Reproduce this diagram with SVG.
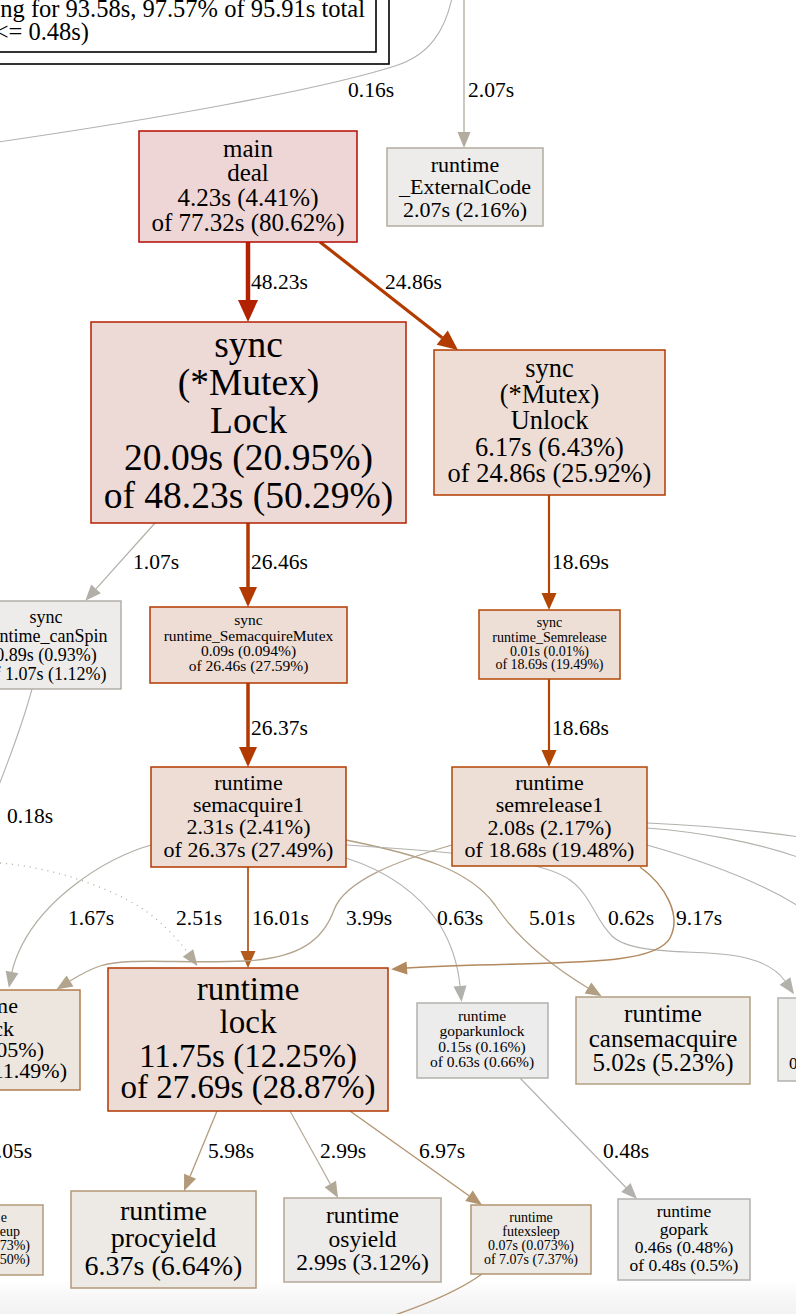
<svg xmlns="http://www.w3.org/2000/svg" width="796" height="1314" viewBox="0 0 796 1314">
<defs>
<style>
text{font-family:"Liberation Serif","Times New Roman",serif;fill:#000}
.c text{text-anchor:middle}
.e{fill:none}
.el{font-size:21.5px}
.n{stroke-width:1.5}
</style>
<linearGradient id="fade" x1="0" y1="0" x2="0" y2="1">
<stop offset="0" stop-color="#ffffff"/>
<stop offset="0.5" stop-color="#f7f7f7"/>
<stop offset="1" stop-color="#f3f3f3"/>
</linearGradient>
<marker id="a1" orient="auto" markerUnits="userSpaceOnUse" overflow="visible" refX="0" refY="0"><path d="M0,-10L22,0L0,10z" fill="#b22100"/></marker>
<marker id="a2" orient="auto" markerUnits="userSpaceOnUse" overflow="visible" refX="0" refY="0"><path d="M0,-9L20,0L0,9z" fill="#b23b00"/></marker>
<marker id="a3" orient="auto" markerUnits="userSpaceOnUse" overflow="visible" refX="0" refY="0"><path d="M0,-9L20,0L0,9z" fill="#b23900"/></marker>
<marker id="a4" orient="auto" markerUnits="userSpaceOnUse" overflow="visible" refX="0" refY="0"><path d="M0,-7.5L17,0L0,7.5z" fill="#b24704"/></marker>
<marker id="a5" orient="auto" markerUnits="userSpaceOnUse" overflow="visible" refX="0" refY="0"><path d="M0,-7.5L17,0L0,7.5z" fill="#b25b1d"/></marker>
<marker id="a6" orient="auto" markerUnits="userSpaceOnUse" overflow="visible" refX="0" refY="0"><path d="M0,-6.5L16,0L0,6.5z" fill="#b2885d"/></marker>
<marker id="a7" orient="auto" markerUnits="userSpaceOnUse" overflow="visible" refX="0" refY="0"><path d="M0,-6.5L16,0L0,6.5z" fill="#b29471"/></marker>
<marker id="a8" orient="auto" markerUnits="userSpaceOnUse" overflow="visible" refX="0" refY="0"><path d="M0,-6.5L16,0L0,6.5z" fill="#b29a7a"/></marker>
<marker id="a9" orient="auto" markerUnits="userSpaceOnUse" overflow="visible" refX="0" refY="0"><path d="M0,-6.5L16,0L0,6.5z" fill="#b29f83"/></marker>
<marker id="a10" orient="auto" markerUnits="userSpaceOnUse" overflow="visible" refX="0" refY="0"><path d="M0,-6.5L16,0L0,6.5z" fill="#b2a48d"/></marker>
<marker id="a11" orient="auto" markerUnits="userSpaceOnUse" overflow="visible" refX="0" refY="0"><path d="M0,-6.5L16,0L0,6.5z" fill="#b2a896"/></marker>
<marker id="a12" orient="auto" markerUnits="userSpaceOnUse" overflow="visible" refX="0" refY="0"><path d="M0,-6.5L16,0L0,6.5z" fill="#b2aa9b"/></marker>
<marker id="a13" orient="auto" markerUnits="userSpaceOnUse" overflow="visible" refX="0" refY="0"><path d="M0,-6.5L16,0L0,6.5z" fill="#b2ac9f"/></marker>
<marker id="a14" orient="auto" markerUnits="userSpaceOnUse" overflow="visible" refX="0" refY="0"><path d="M0,-6.5L16,0L0,6.5z" fill="#b2ada3"/></marker>
<marker id="a15" orient="auto" markerUnits="userSpaceOnUse" overflow="visible" refX="0" refY="0"><path d="M0,-6.5L16,0L0,6.5z" fill="#b2afa8"/></marker>
<marker id="a16" orient="auto" markerUnits="userSpaceOnUse" overflow="visible" refX="0" refY="0"><path d="M0,-6.5L16,0L0,6.5z" fill="#b2b1ac"/></marker>
<marker id="a17" orient="auto" markerUnits="userSpaceOnUse" overflow="visible" refX="0" refY="0"><path d="M0,-6.5L16,0L0,6.5z" fill="#b2b1ae"/></marker>
</defs>
<rect x="0" y="0" width="796" height="1314" fill="#ffffff"/>
<rect x="0" y="1280" width="796" height="34" fill="url(#fade)"/>

<g id="legend">
<rect x="-20" y="-20" width="409" height="84" fill="#ffffff" stroke="#000" stroke-width="1.6"/>
<rect x="-20" y="-20" width="396" height="72" fill="#ffffff" stroke="#000" stroke-width="1.6"/>
<text x="365" y="17" font-size="24.5" text-anchor="end">ng for 93.58s, 97.57% of 95.91s total</text>
<text x="89" y="40" font-size="24.5" text-anchor="end">&lt;= 0.48s)</text>
</g>

<g id="connectors">
<path class="e" d="M452,-2 C445,30 430,55 395,66 C320,90 150,120 -2,142" stroke="#b2b2b0" stroke-width="1.1"/>
<path class="e" d="M464,-2 L464,132" stroke="#b2ac9f" stroke-width="1.3" marker-end="url(#a13)"/>
<path class="e" d="M248,242 L248,300" stroke="#b22100" stroke-width="4.5" marker-end="url(#a1)"/>
<path class="e" d="M320,242 L442.2,337.7" stroke="#b23b00" stroke-width="3.2" marker-end="url(#a2)"/>
<path class="e" d="M155,523 L96,588.8" stroke="#b2afa8" stroke-width="1.2" marker-end="url(#a15)"/>
<path class="e" d="M248,523 L248,587" stroke="#b23900" stroke-width="3.5" marker-end="url(#a3)"/>
<path class="e" d="M549,495 L549,593" stroke="#b24704" stroke-width="2.2" marker-end="url(#a4)"/>
<path class="e" d="M248,683 L248,747" stroke="#b23900" stroke-width="3.5" marker-end="url(#a3)"/>
<path class="e" d="M549,679 L549,750" stroke="#b24704" stroke-width="2.2" marker-end="url(#a4)"/>
<path class="e" d="M32,689 C25,715 12,752 -3,790" stroke="#b2b2b0" stroke-width="1.1"/>
<path class="e" d="M0,863 C60,868 125,893 155,918 C170,931 180,942 188,953" stroke="#b2aa9b" stroke-width="1.3" stroke-dasharray="1,5" marker-end="url(#a12)"/>
<path class="e" d="M248,867 L248,951" stroke="#b25b1d" stroke-width="1.8" marker-end="url(#a5)"/>
<path class="e" d="M151,845 C100,860 45,900 22,945 C17,955 14,962 12,972" stroke="#b2ada3" stroke-width="1.2" marker-end="url(#a14)"/>
<path class="e" d="M452,845 C400,860 345,880 334,910 C323,940 300,958 245,961 C180,964 130,957 100,966 C88,970 78,976 70,981" stroke="#b2a48d" stroke-width="1.3" marker-end="url(#a10)"/>
<path class="e" d="M346,858 C390,872 420,895 440,925 C452,945 458,965 460,986" stroke="#b2b1ac" stroke-width="1.1" marker-end="url(#a16)"/>
<path class="e" d="M346,840 C420,855 470,870 495,905 C515,935 545,962 588,988" stroke="#b29f83" stroke-width="1.3" marker-end="url(#a9)"/>
<path class="e" d="M346,845 C450,852 540,858 570,880 C592,896 595,920 612,936 C632,955 690,950 730,955 C760,959 776,968 785,981" stroke="#b2b1ac" stroke-width="1.1" marker-end="url(#a16)"/>
<path class="e" d="M640,867 C665,885 682,915 670,938 C658,960 600,962 520,964 C470,965 435,966 407,968" stroke="#b2885d" stroke-width="1.5" marker-end="url(#a6)"/>
<path class="e" d="M647,823 C700,825 750,830 800,837" stroke="#b2b1ac" stroke-width="1.1"/>
<path class="e" d="M647,828 C700,832 760,843 800,858" stroke="#b2b1ac" stroke-width="1.1"/>
<path class="e" d="M647,845 C700,860 760,882 800,907" stroke="#b2b1ac" stroke-width="1.1"/>
<path class="e" d="M217,1111 L190.1,1176.2" stroke="#b29a7a" stroke-width="1.3" marker-end="url(#a8)"/>
<path class="e" d="M290,1111 L330.3,1184" stroke="#b2a896" stroke-width="1.2" marker-end="url(#a11)"/>
<path class="e" d="M350,1111 L469,1195.7" stroke="#b29471" stroke-width="1.4" marker-end="url(#a7)"/>
<path class="e" d="M520,1078 L625.9,1187.5" stroke="#b2b1ae" stroke-width="1.1" marker-end="url(#a17)"/>
<path class="e" d="M482,1274 C460,1290 430,1303 392,1316" stroke="#b29471" stroke-width="1.4"/>
<text class="el" x="348" y="97">0.16s</text>
<text class="el" x="468" y="97">2.07s</text>
<text class="el" x="251" y="289">48.23s</text>
<text class="el" x="385" y="289">24.86s</text>
<text class="el" x="133" y="569">1.07s</text>
<text class="el" x="251" y="569">26.46s</text>
<text class="el" x="552" y="569">18.69s</text>
<text class="el" x="251" y="735">26.37s</text>
<text class="el" x="552" y="735">18.68s</text>
<text class="el" x="7" y="823">0.18s</text>
<text class="el" x="68" y="925">1.67s</text>
<text class="el" x="176" y="925">2.51s</text>
<text class="el" x="252" y="925">16.01s</text>
<text class="el" x="346" y="925">3.99s</text>
<text class="el" x="437" y="925">0.63s</text>
<text class="el" x="529" y="925">5.01s</text>
<text class="el" x="608" y="925">0.62s</text>
<text class="el" x="676" y="925">9.17s</text>
<text class="el" x="32" y="1158" text-anchor="end">.05s</text>
<text class="el" x="208" y="1158">5.98s</text>
<text class="el" x="320" y="1158">2.99s</text>
<text class="el" x="419" y="1158">6.97s</text>
<text class="el" x="603" y="1158">0.48s</text>
</g>

<g id="node-main-deal" class="c">
<rect class="n" x="139" y="131" width="218" height="111" fill="#edd6d5" stroke="#b20b00"/>
<text x="248" y="157" font-size="25">main</text>
<text x="248" y="181" font-size="25">deal</text>
<text x="248" y="206" font-size="25">4.23s (4.41%)</text>
<text x="248" y="231" font-size="25">of 77.32s (80.62%)</text>
</g>

<g id="node-externalcode" class="c">
<rect class="n" x="387" y="148" width="156" height="78" fill="#edecea" stroke="#b2ac9f"/>
<text x="465" y="172" font-size="22">runtime</text>
<text x="465" y="194" font-size="22">_ExternalCode</text>
<text x="465" y="217" font-size="22">2.07s (2.16%)</text>
</g>

<g id="node-mutex-lock" class="c">
<rect class="n" x="91" y="322" width="315" height="201" fill="#edd9d5" stroke="#b22100"/>
<text x="248.5" y="357" font-size="37.5">sync</text>
<text x="248.5" y="395" font-size="37.5">(*Mutex)</text>
<text x="248.5" y="433" font-size="37.5">Lock</text>
<text x="248.5" y="470" font-size="37.5">20.09s (20.95%)</text>
<text x="248.5" y="508" font-size="37.5">of 48.23s (50.29%)</text>
</g>

<g id="node-mutex-unlock" class="c">
<rect class="n" x="434" y="350" width="231" height="145" fill="#edddd5" stroke="#b23b00"/>
<text x="549.5" y="377" font-size="26.4">sync</text>
<text x="549.5" y="403" font-size="26.4">(*Mutex)</text>
<text x="549.5" y="429" font-size="26.4">Unlock</text>
<text x="549.5" y="456" font-size="26.4">6.17s (6.43%)</text>
<text x="549.5" y="482" font-size="26.4">of 24.86s (25.92%)</text>
</g>

<g id="node-canspin" class="c">
<rect class="n" x="-31" y="601" width="152" height="88" fill="#edeceb" stroke="#b2afa8"/>
<text x="46" y="623" font-size="18">sync</text>
<text x="46" y="642" font-size="18">runtime_canSpin</text>
<text x="46" y="661" font-size="18">0.89s (0.93%)</text>
<text x="46" y="680" font-size="18">of 1.07s (1.12%)</text>
</g>

<g id="node-semacquiremutex" class="c">
<rect class="n" x="150" y="607" width="197" height="76" fill="#edddd5" stroke="#b23900"/>
<text x="248.5" y="625" font-size="15.5">sync</text>
<text x="248.5" y="641" font-size="15.5">runtime_SemacquireMutex</text>
<text x="248.5" y="656" font-size="15.5">0.09s (0.094%)</text>
<text x="248.5" y="671" font-size="15.5">of 26.46s (27.59%)</text>
</g>

<g id="node-semrelease" class="c">
<rect class="n" x="479" y="610" width="141" height="69" fill="#edded6" stroke="#b24704"/>
<text x="549.5" y="627" font-size="14">sync</text>
<text x="549.5" y="642" font-size="14">runtime_Semrelease</text>
<text x="549.5" y="656" font-size="14">0.01s (0.01%)</text>
<text x="549.5" y="669" font-size="14">of 18.69s (19.49%)</text>
</g>

<g id="node-semacquire1" class="c">
<rect class="n" x="151" y="767" width="195" height="100" fill="#edddd5" stroke="#b23900"/>
<text x="248.5" y="790" font-size="22">runtime</text>
<text x="248.5" y="812" font-size="22">semacquire1</text>
<text x="248.5" y="834" font-size="22">2.31s (2.41%)</text>
<text x="248.5" y="857" font-size="22">of 26.37s (27.49%)</text>
</g>

<g id="node-semrelease1" class="c">
<rect class="n" x="452" y="767" width="195" height="99" fill="#edded6" stroke="#b24704"/>
<text x="549.5" y="790" font-size="22">runtime</text>
<text x="549.5" y="812" font-size="22">semrelease1</text>
<text x="549.5" y="835" font-size="22">2.08s (2.17%)</text>
<text x="549.5" y="857" font-size="22">of 18.68s (19.48%)</text>
</g>

<g id="node-lock" class="c">
<rect class="n" x="108" y="968" width="280" height="143" fill="#eddcd5" stroke="#b23700"/>
<text x="248" y="1000" font-size="33">runtime</text>
<text x="248" y="1033" font-size="33">lock</text>
<text x="248" y="1067" font-size="33">11.75s (12.25%)</text>
<text x="248" y="1098" font-size="33">of 27.69s (28.87%)</text>
</g>

<g id="node-left-unlock">
<rect class="n" x="-120" y="990" width="200" height="100" fill="#ede6df" stroke="#b27c4b"/>
<text x="18" y="1013" font-size="22" text-anchor="end">me</text>
<text x="14" y="1036" font-size="22" text-anchor="end">ck</text>
<text x="44" y="1057" font-size="22" text-anchor="end">.05%)</text>
<text x="67" y="1078" font-size="22" text-anchor="end">11.49%)</text>
</g>

<g id="node-goparkunlock" class="c">
<rect class="n" x="417" y="1003" width="131" height="75" fill="#edecec" stroke="#b2b1ac"/>
<text x="482" y="1021" font-size="15.5">runtime</text>
<text x="482" y="1036" font-size="15.5">goparkunlock</text>
<text x="482" y="1052" font-size="15.5">0.15s (0.16%)</text>
<text x="482" y="1067" font-size="15.5">of 0.63s (0.66%)</text>
</g>

<g id="node-cansemacquire" class="c">
<rect class="n" x="576" y="997" width="174" height="87" fill="#edeae6" stroke="#b29f83"/>
<text x="663" y="1022" font-size="25">runtime</text>
<text x="663" y="1047" font-size="25">cansemacquire</text>
<text x="663" y="1071" font-size="25">5.02s (5.23%)</text>
</g>

<g id="node-right">
<rect class="n" x="778" y="998" width="140" height="83" fill="#ededec" stroke="#b2b1ac"/>
<text x="789" y="1069" font-size="17">0</text>
</g>

<g id="node-left-wakeup">
<rect class="n" x="-80" y="1205" width="123" height="70" fill="#ede8e2" stroke="#b29a7a"/>
<text x="7" y="1222" font-size="14" text-anchor="end">e</text>
<text x="20" y="1236" font-size="14" text-anchor="end">eup</text>
<text x="30" y="1250" font-size="14" text-anchor="end">.73%)</text>
<text x="30" y="1264" font-size="14" text-anchor="end">.50%)</text>
</g>

<g id="node-procyield" class="c">
<rect class="n" x="71" y="1191" width="185" height="97" fill="#ede9e5" stroke="#b29877"/>
<text x="163.5" y="1220" font-size="28">runtime</text>
<text x="163.5" y="1247" font-size="28">procyield</text>
<text x="163.5" y="1275" font-size="28">6.37s (6.64%)</text>
</g>

<g id="node-osyield" class="c">
<rect class="n" x="284" y="1198" width="157" height="84" fill="#edebe9" stroke="#b2a896"/>
<text x="362.5" y="1223" font-size="23.5">runtime</text>
<text x="362.5" y="1247" font-size="23.5">osyield</text>
<text x="362.5" y="1270" font-size="23.5">2.99s (3.12%)</text>
</g>

<g id="node-futexsleep" class="c">
<rect class="n" x="471" y="1205" width="120" height="69" fill="#ede9e4" stroke="#b29470"/>
<text x="531" y="1222" font-size="14">runtime</text>
<text x="531" y="1236" font-size="14">futexsleep</text>
<text x="531" y="1250" font-size="14">0.07s (0.073%)</text>
<text x="531" y="1264" font-size="14">of 7.07s (7.37%)</text>
</g>

<g id="node-gopark" class="c">
<rect class="n" x="618" y="1199" width="132" height="81" fill="#ededec" stroke="#b2b1ae"/>
<text x="684" y="1217" font-size="17.5">runtime</text>
<text x="684" y="1235" font-size="17.5">gopark</text>
<text x="684" y="1253" font-size="17.5">0.46s (0.48%)</text>
<text x="684" y="1271" font-size="17.5">of 0.48s (0.5%)</text>
</g>
</svg>
